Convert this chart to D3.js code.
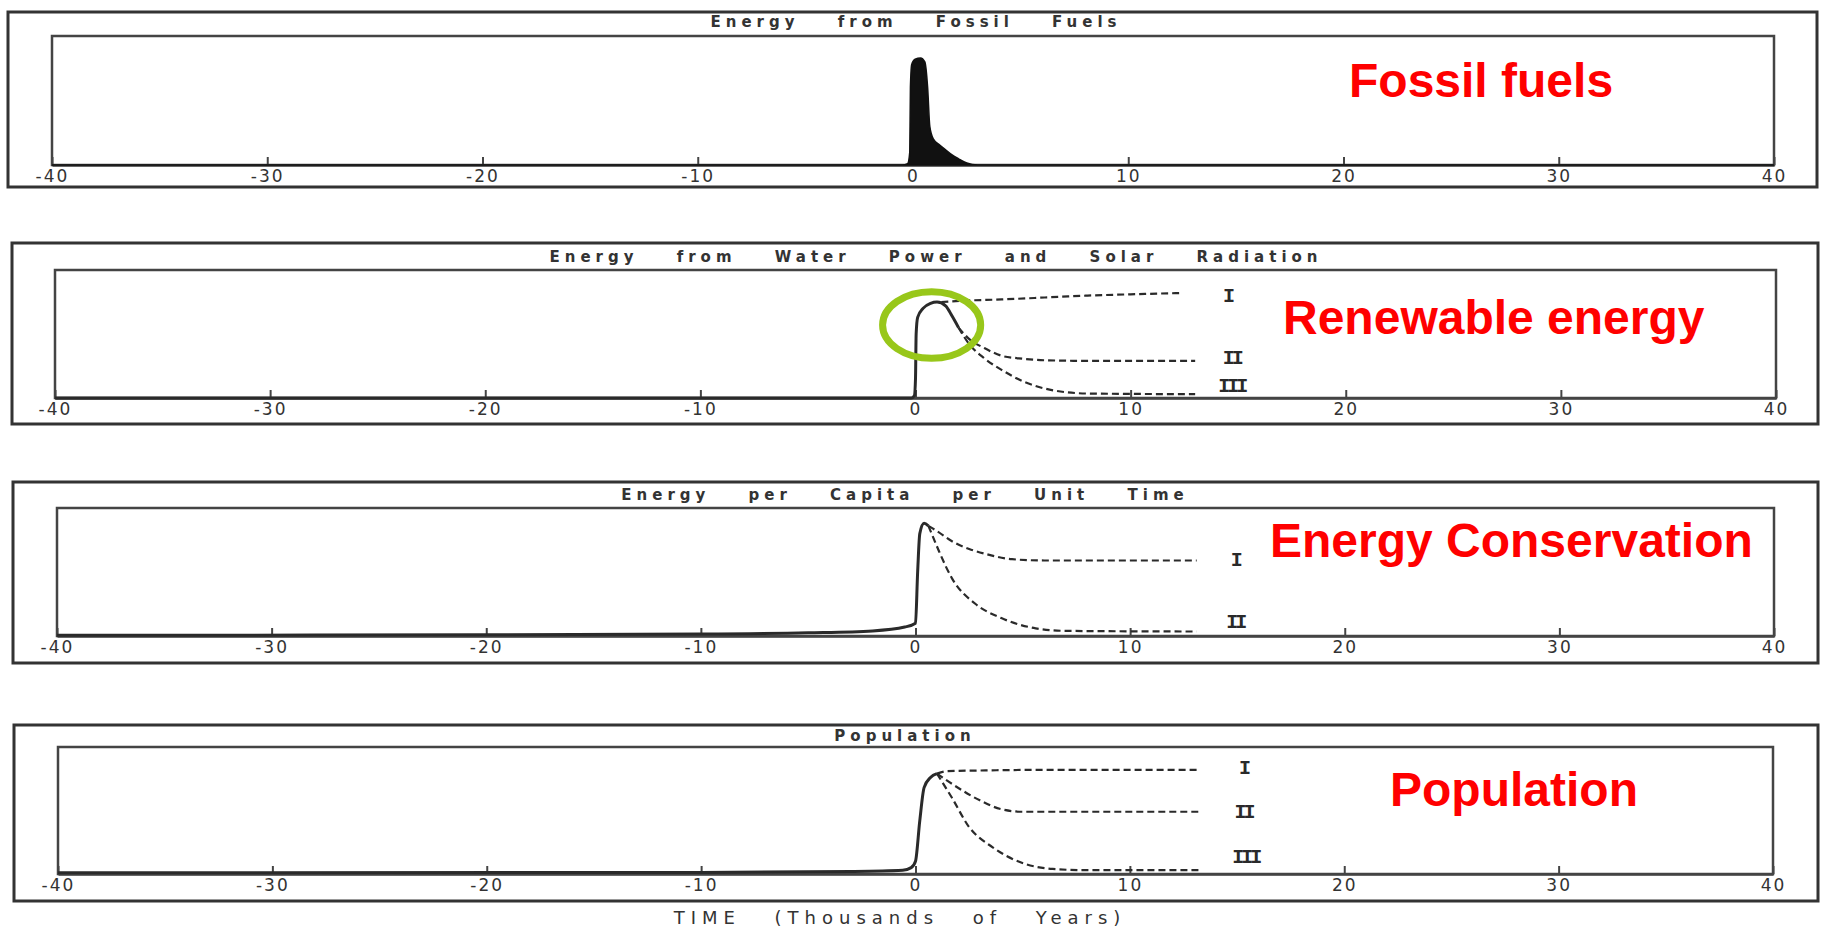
<!DOCTYPE html>
<html>
<head>
<meta charset="utf-8">
<script src="https://cdn.jsdelivr.net/npm/d3@7"></script>
<style>
  html, body { margin: 0; padding: 0; background: #fff; }
  svg { display: block; }
</style>
</head>
<body>
<div id="chart"></div>
<script>
// time axis, thousands of years
const xTicks = [-40, -30, -20, -10, 0, 10, 20, 30, 40];

const panelTitles = [
  "Energy from Fossil Fuels",
  "Energy from Water Power and Solar Radiation",
  "Energy per Capita per Unit Time",
  "Population"
];
const captions = ["Fossil fuels", "Renewable energy", "Energy Conservation", "Population"];
const axisTitle = "TIME (Thousands of Years)";

// [time, relative level 0..1]
const fossil = [[-40, 0], [-0.5, 0], [-0.25, 0.01], [-0.15, 0.1], [-0.12, 0.6], [-0.06, 0.78], [0.1, 0.82],
  [0.35, 0.83], [0.55, 0.8], [0.68, 0.6], [0.78, 0.3], [0.95, 0.2], [1.2, 0.16], [1.5, 0.12], [1.8, 0.08],
  [2.1, 0.05], [2.5, 0.015], [3, 0], [40, 0]];

const renewCommon = [[-40, 0], [-0.2, 0], [-0.05, 0.02], [0, 0.15], [0.03, 0.5], [0.1, 0.63], [0.35, 0.7],
  [0.7, 0.74], [1.0, 0.75], [1.4, 0.72], [1.7, 0.64], [2.0, 0.55]];
const renewI = [[1.2, 0.75], [2.2, 0.76], [4, 0.77], [6, 0.785], [8, 0.8], [10, 0.81], [12.3, 0.82]];
const renewII = [[2.0, 0.55], [2.5, 0.46], [3.2, 0.39], [4.0, 0.33], [4.8, 0.31], [6, 0.295], [8, 0.29], [13, 0.29]];
const renewIII = [[2.0, 0.55], [2.5, 0.42], [3.2, 0.31], [4.0, 0.22], [5, 0.13], [6.4, 0.06], [8, 0.035], [13, 0.03]];

const capitaCommon = [[-40, 0.005], [-20, 0.01], [-10, 0.015], [-5, 0.025], [-2, 0.04], [-0.5, 0.07], [0, 0.1],
  [0.1, 0.5], [0.2, 0.8], [0.4, 0.88], [0.6, 0.86]];
const capitaI = [[0.6, 0.86], [1.0, 0.82], [1.7, 0.74], [2.5, 0.68], [3.3, 0.64], [4.5, 0.6], [6, 0.59], [13.1, 0.59]];
const capitaII = [[0.6, 0.86], [0.8, 0.78], [1.1, 0.66], [1.7, 0.45], [2.8, 0.25], [4.0, 0.14], [5.6, 0.06],
  [7, 0.04], [13.1, 0.035]];

const popCommon = [[-40, 0.01], [-10, 0.012], [-3, 0.02], [-0.6, 0.03], [-0.2, 0.05], [0, 0.1], [0.2, 0.42],
  [0.4, 0.68], [0.7, 0.76], [1.0, 0.79]];
const popI = [[1.0, 0.79], [1.5, 0.81], [3, 0.815], [6, 0.82], [13.2, 0.82]];
const popII = [[1.0, 0.79], [1.7, 0.71], [3.0, 0.58], [4.0, 0.51], [5, 0.49], [8, 0.49], [13.2, 0.49]];
const popIII = [[1.0, 0.79], [1.7, 0.6], [2.5, 0.37], [3.6, 0.21], [5.1, 0.08], [6.4, 0.04], [8, 0.03], [13.2, 0.03]];

// roman numeral tags at the end of the scenarios
const renewTags = [["I", 14.5, 0.79], ["II", 14.7, 0.31], ["III", 14.7, 0.09]];
const capitaTags = [["I", 14.9, 0.59], ["II", 14.9, 0.1]];
const popTags = [["I", 15.3, 0.83], ["II", 15.3, 0.48], ["III", 15.4, 0.13]];

// layout of the four scanned panels (px)
const panels = [
  { outer: [8, 12, 1817, 187], inner: [52, 36, 1774, 165], titleY: 22, titleX: 916, cap: [1349, 97] },
  { outer: [12, 243, 1818, 424], inner: [55, 270, 1776, 398], titleY: 257, titleX: 936, cap: [1283, 334] },
  { outer: [13, 482, 1818, 663], inner: [57, 508, 1774, 636], titleY: 495, titleX: 905, cap: [1270, 557] },
  { outer: [14, 725, 1818, 901], inner: [58, 747, 1773, 874], titleY: 736, titleX: 905, cap: [1390, 806] }
];

const svg = d3.select("#chart").append("svg")
  .attr("width", 1824)
  .attr("height", 933);

const ink = "#2a2a2a";

function drawPanel(i) {
  const p = panels[i];
  const [ox0, oy0, ox1, oy1] = p.outer;
  const [ix0, iy0, ix1, iy1] = p.inner;
  const g = svg.append("g");

  g.append("rect")
    .attr("x", ox0).attr("y", oy0)
    .attr("width", ox1 - ox0).attr("height", oy1 - oy0)
    .attr("fill", "none").attr("stroke", "#333").attr("stroke-width", 3);

  g.append("rect")
    .attr("x", ix0).attr("y", iy0)
    .attr("width", ix1 - ix0).attr("height", iy1 - iy0)
    .attr("fill", "none").attr("stroke", "#444").attr("stroke-width", 2.5);

  g.append("text")
    .attr("x", p.titleX).attr("y", p.titleY)
    .attr("text-anchor", "middle").attr("dominant-baseline", "middle")
    .style("font-family", "DejaVu Sans").style("font-size", "15px")
    .style("font-weight", "bold")
    .style("letter-spacing", "5px").style("word-spacing", "28px")
    .attr("fill", "#333")
    .text(panelTitles[i]);

  const x = d3.scaleLinear().domain([-40, 40]).range([ix0, ix1]);
  const y = d3.scaleLinear().domain([0, 1]).range([iy1, iy0]);

  const axis = d3.axisBottom(x)
    .tickValues(xTicks)
    .tickFormat(d => String(d))
    .tickSizeInner(-8)
    .tickSizeOuter(0)
    .tickPadding(5);

  const ax = g.append("g")
    .attr("transform", `translate(0,${iy1})`)
    .call(axis);
  ax.select(".domain").attr("stroke", "#444").attr("stroke-width", 2.5);
  ax.selectAll(".tick line").attr("stroke", "#444").attr("stroke-width", 2);
  ax.selectAll(".tick text")
    .attr("fill", "#333")
    .style("font-family", "DejaVu Sans").style("font-size", "17px")
    .style("letter-spacing", "2px");

  g.append("text")
    .attr("x", p.cap[0]).attr("y", p.cap[1])
    .attr("fill", "#ff0000")
    .style("font-family", "Liberation Sans, Arial, sans-serif")
    .style("font-weight", "bold")
    .style("font-size", "48px")
    .text(captions[i]);

  return { g, x, y };
}

function curve(ctx, data, dashed) {
  const line = d3.line()
    .x(d => ctx.x(d[0]))
    .y(d => ctx.y(d[1]))
    .curve(d3.curveMonotoneX);
  ctx.g.append("path")
    .datum(data)
    .attr("fill", "none")
    .attr("stroke", ink)
    .attr("stroke-width", dashed ? 2.2 : 3)
    .attr("stroke-dasharray", dashed ? "7,4" : null)
    .attr("d", line);
}

function tags(ctx, list) {
  ctx.g.selectAll(null)
    .data(list)
    .join("text")
    .attr("x", d => ctx.x(d[1]))
    .attr("y", d => ctx.y(d[2]))
    .attr("text-anchor", "middle")
    .attr("dominant-baseline", "middle")
    .attr("fill", ink)
    .style("font-family", "Liberation Mono, monospace")
    .style("font-weight", "bold")
    .style("font-size", "20px")
    .style("letter-spacing", "-3px")
    .text(d => d[0]);
}

// fossil fuels
const p1 = drawPanel(0);
const area = d3.area()
  .x(d => p1.x(d[0]))
  .y0(p1.y(0))
  .y1(d => p1.y(d[1]))
  .curve(d3.curveMonotoneX);
p1.g.append("path")
  .datum(fossil)
  .attr("fill", "#111")
  .attr("stroke", "#111")
  .attr("stroke-width", 1.5)
  .attr("d", area);

// renewables
const p2 = drawPanel(1);
curve(p2, renewCommon, false);
curve(p2, renewI, true);
curve(p2, renewII, true);
curve(p2, renewIII, true);
tags(p2, renewTags);
// highlight ring round the peak
p2.g.append("ellipse")
  .attr("cx", p2.x(0.75))
  .attr("cy", p2.y(0.57))
  .attr("rx", p2.x(0.75 + 2.28) - p2.x(0.75))
  .attr("ry", p2.y(0) - p2.y(0.26))
  .attr("fill", "none")
  .attr("stroke", "#98c71a")
  .attr("stroke-width", 7);

// energy per capita
const p3 = drawPanel(2);
curve(p3, capitaCommon, false);
curve(p3, capitaI, true);
curve(p3, capitaII, true);
tags(p3, capitaTags);

// population
const p4 = drawPanel(3);
curve(p4, popCommon, false);
curve(p4, popI, true);
curve(p4, popII, true);
curve(p4, popIII, true);
tags(p4, popTags);

svg.append("text")
  .attr("x", 900).attr("y", 919)
  .attr("text-anchor", "middle").attr("dominant-baseline", "middle")
  .attr("fill", "#333")
  .style("font-family", "DejaVu Sans").style("font-size", "18px")
  .style("letter-spacing", "6px").style("word-spacing", "22px")
  .text(axisTitle);
</script>
</body>
</html>
